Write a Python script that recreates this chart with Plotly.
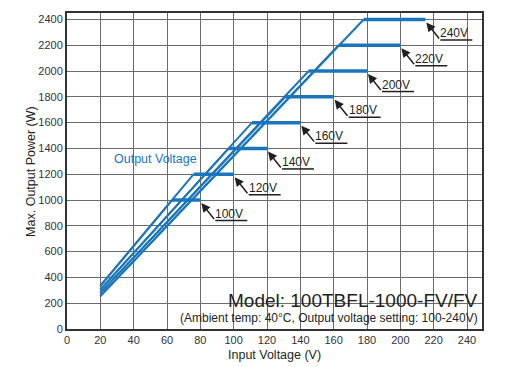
import plotly.graph_objects as go

# ---- data ----
voltages = ["100V", "120V", "140V", "160V", "180V", "200V", "220V", "240V"]
plateau_power = [1000, 1200, 1400, 1600, 1800, 2000, 2200, 2400]   # W
start_input = [20, 20, 20, 20, 20, 20, 20, 20]                     # V
start_power = [335, 335, 305, 305, 280, 280, 255, 255]             # W at start
knee_input = [63, 76, 97, 111, 131, 145, 163, 178]                 # V where plateau begins
end_input = [80, 100, 120, 140, 160, 180, 200, 215]                # V where plateau ends

x_ticks = list(range(0, 241, 20))
y_ticks = list(range(0, 2401, 200))

BLUE = "#1b75bb"
INK = "#231f20"
FONT = "Arial, Liberation Sans, sans-serif"

fig = go.Figure()

for v, p, xs, ys, xk, xe in zip(voltages, plateau_power, start_input,
                                 start_power, knee_input, end_input):
    fig.add_trace(go.Scatter(x=[xs, xk], y=[ys, p], mode="lines",
                             line=dict(color=BLUE, width=2),
                             showlegend=False, hoverinfo="skip"))
    fig.add_trace(go.Scatter(x=[xk, xe], y=[p, p], mode="lines",
                             line=dict(color=BLUE, width=3.5),
                             showlegend=False, name=v))

annotations = []
shapes = []
for v, p, xe in zip(voltages, plateau_power, end_input):
    # arrow from leader corner to plateau end
    annotations.append(dict(x=xe, y=p, xref="x", yref="y", text="",
                            showarrow=True, ax=14, ay=17.5,
                            xshift=1, yshift=-3,
                            arrowhead=2, arrowsize=1.2, arrowwidth=1.5,
                            arrowcolor=INK))
    # underline
    shapes.append(dict(type="line", xref="x", yref="y",
                       xsizemode="pixel", ysizemode="pixel",
                       xanchor=xe, yanchor=p,
                       x0=15, x1=47, y0=-20.5, y1=-20.5,
                       line=dict(color=INK, width=1.5)))
    annotations.append(dict(x=xe, y=p, xref="x", yref="y", text=v,
                            showarrow=False, xshift=29, yshift=-13.5,
                            font=dict(family=FONT, size=12, color=INK)))

annotations.append(dict(x=53, y=1320, xref="x", yref="y", text="Output Voltage",
                        showarrow=False,
                        font=dict(family=FONT, size=12.5, color=BLUE)))

annotations.append(dict(x=0.995, y=0.089, xref="paper", yref="paper",
                        xanchor="right", yanchor="middle",
                        text="Model: 100TBFL-1000-FV/FV", showarrow=False,
                        font=dict(family=FONT, size=19, color=INK)))
annotations.append(dict(x=0.995, y=0.034, xref="paper", yref="paper",
                        xanchor="right", yanchor="middle",
                        text="(Ambient temp: 40°C, Output voltage setting: 100-240V)",
                        showarrow=False,
                        font=dict(family=FONT, size=12, color=INK)))

# axis titles
annotations.append(dict(x=0.499, y=-0.083, xref="paper", yref="paper",
                        text="Input Voltage (V)", showarrow=False,
                        xanchor="center", yanchor="middle",
                        font=dict(family=FONT, size=12.5, color=INK)))
annotations.append(dict(x=-0.087, y=0.50, xref="paper", yref="paper",
                        text="Max. Output Power (W)", showarrow=False,
                        textangle=-90, xanchor="center", yanchor="middle",
                        font=dict(family=FONT, size=12.5, color=INK)))

# page body adds an 8px offset, so the figure is sized/shifted to compensate
fig.update_layout(
    width=501, height=359,
    margin=dict(l=59, r=27, t=3, b=38),
    paper_bgcolor="white", plot_bgcolor="white",
    annotations=annotations, shapes=shapes,
    font=dict(family=FONT, color="#333333"),
)
fig.update_xaxes(range=[0, 249], tickvals=x_ticks, ticks="",
                 showgrid=True, gridcolor="#6b6b6b", gridwidth=1,
                 showline=True, linecolor="#333333", linewidth=2, mirror=True,
                 zeroline=False, tickfont=dict(size=11, color="#333333"))
fig.update_yaxes(range=[0, 2450], tickvals=y_ticks, ticks="",
                 showgrid=True, gridcolor="#6b6b6b", gridwidth=1,
                 showline=True, linecolor="#333333", linewidth=2, mirror=True,
                 zeroline=False, tickfont=dict(size=11, color="#333333"))

fig.write_html("out.html")
